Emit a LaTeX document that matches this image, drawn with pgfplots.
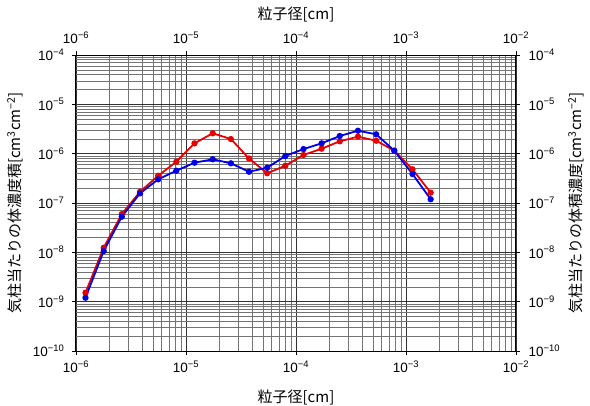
\documentclass[border=0pt]{standalone}
\usepackage{fontspec}
\usepackage{pgfplots}
\pgfplotsset{compat=1.18}
\setmainfont{Liberation Sans}
\newfontfamily\jp{Noto Sans CJK JP}
\definecolor{myred}{RGB}{230,0,0}
\definecolor{myblue}{RGB}{0,0,230}
\pgfplotstableread{
x y
1.22e-6 1.52e-9
1.786e-6 1.24e-8
2.61e-6 5.98e-8
3.82e-6 1.69e-7
5.59e-6 3.57e-7
8.17e-6 6.87e-7
1.195e-5 1.62e-6
1.75e-5 2.59e-6
2.56e-5 1.98e-6
3.74e-5 8.0e-7
5.47e-5 4.0e-7
8.0e-5 5.7e-7
1.17e-4 9.4e-7
1.71e-4 1.26e-6
2.50e-4 1.78e-6
3.66e-4 2.21e-6
5.36e-4 1.83e-6
7.83e-4 1.15e-6
1.146e-3 4.82e-7
1.677e-3 1.62e-7
}\redtab
\pgfplotstableread{
x y
1.22e-6 1.2e-9
1.786e-6 1.06e-8
2.61e-6 5.27e-8
3.82e-6 1.57e-7
5.59e-6 3.02e-7
8.17e-6 4.52e-7
1.195e-5 6.56e-7
1.75e-5 7.69e-7
2.56e-5 6.38e-7
3.74e-5 4.3e-7
5.47e-5 5.19e-7
8.0e-5 8.97e-7
1.17e-4 1.24e-6
1.71e-4 1.62e-6
2.50e-4 2.28e-6
3.66e-4 2.92e-6
5.36e-4 2.47e-6
7.83e-4 1.15e-6
1.146e-3 3.87e-7
1.677e-3 1.19e-7
}\bluetab
\begin{document}
\begin{tikzpicture}
\begin{loglogaxis}[
  scale only axis, width=440pt, height=296pt,
  xmin=1e-6, xmax=1e-2, ymin=1e-10, ymax=1e-4,
  xtick={1e-6,1e-5,1e-4,1e-3,1e-2},
  ytick={1e-10,1e-9,1e-8,1e-7,1e-6,1e-5,1e-4},
  xticklabels={10\textsuperscript{−6},10\textsuperscript{−5},10\textsuperscript{−4},10\textsuperscript{−3},10\textsuperscript{−2}},
  yticklabels={10\textsuperscript{−10},10\textsuperscript{−9},10\textsuperscript{−8},10\textsuperscript{−7},10\textsuperscript{−6},10\textsuperscript{−5},10\textsuperscript{−4}},
  tick label style={font=\fontsize{13.5}{15}\selectfont},
  xticklabel style={yshift=-2pt},
  yticklabel style={xshift=-4pt},
  tick align=outside,
  major tick length=4pt,
  minor tick length=0pt,
  tick style={black, line width=0.6pt},
  axis line style={black, line width=1pt},
  xtick pos=both, ytick pos=both,
  xticklabel pos=lower, yticklabel pos=left,
  grid=both,
  major grid style={black!80, line width=0.7pt},
  minor grid style={black!55, line width=0.6pt},
]
\addplot[myred, line width=1.8pt, mark=*, mark size=2.2pt] table[x=x,y=y]{\redtab};
\addplot[myblue, line width=1.8pt, mark=*, mark size=2.2pt] table[x=x,y=y]{\bluetab};
\end{loglogaxis}
\begin{loglogaxis}[
  scale only axis, width=440pt, height=296pt,
  xmin=1e-6, xmax=1e-2, ymin=1e-10, ymax=1e-4,
  clip=false,
  xtick={1e-6,1e-5,1e-4,1e-3,1e-2},
  ytick={1e-10,1e-9,1e-8,1e-7,1e-6,1e-5,1e-4},
  xticklabels={10\textsuperscript{−6},10\textsuperscript{−5},10\textsuperscript{−4},10\textsuperscript{−3},10\textsuperscript{−2}},
  yticklabels={10\textsuperscript{−10},10\textsuperscript{−9},10\textsuperscript{−8},10\textsuperscript{−7},10\textsuperscript{−6},10\textsuperscript{−5},10\textsuperscript{−4}},
  tick label style={font=\fontsize{13.5}{15}\selectfont},
  xticklabel style={yshift=4pt},
  yticklabel style={xshift=5pt},
  tick align=outside,
  major tick length=4pt,
  minor tick length=0pt,
  tick style={black, line width=0.6pt},
  axis line style={black, line width=1pt},
  xtick pos=both, ytick pos=both,
  xticklabel pos=upper, yticklabel pos=right,
]
\addplot[draw=none] coordinates {(1e-5,1e-7)};
\node[font=\jp\fontsize{15}{17}\selectfont] at (rel axis cs:0.5,-0.1554) {粒子径[cm]};
\node[font=\jp\fontsize{15}{17}\selectfont] at (rel axis cs:0.5,1.1385) {粒子径[cm]};
\node[font=\jp\fontsize{15}{17}\selectfont, rotate=90] at (rel axis cs:-0.1386,0.5) {気柱当たりの体濃度積[cm\textsuperscript{3}cm\textsuperscript{−2}]};
\node[font=\jp\fontsize{15}{17}\selectfont, rotate=90] at (rel axis cs:1.1364,0.5) {気柱当たりの体積濃度[cm\textsuperscript{3}cm\textsuperscript{−2}]};
\end{loglogaxis}
\pgfresetboundingbox
\path (current axis.south west) ++(-76pt,-54pt) rectangle ++(590pt,405pt);
\end{tikzpicture}
\end{document}
